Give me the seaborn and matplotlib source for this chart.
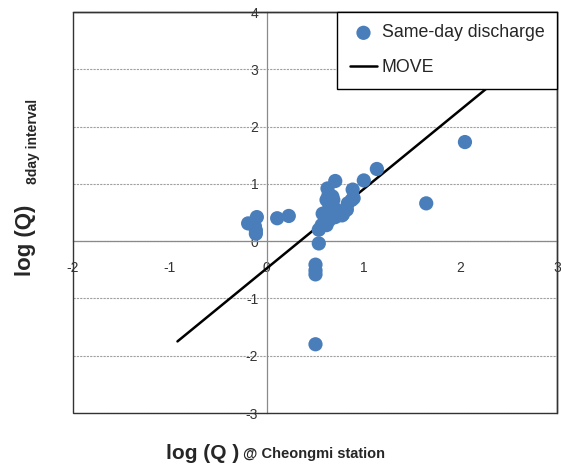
import matplotlib
matplotlib.use('Agg')
import matplotlib.pyplot as plt
import seaborn as sns
import pandas as pd

# Same-day discharge points (log Q @ Cheongmi, log Q 8-day interval)
x_same = [-0.19, -0.10, -0.11, -0.12, -0.11, 0.11, 0.23, 0.54, 0.54, 0.506, 0.506, 0.506, 0.506,
          0.71, 0.63, 0.89, 1.005, 1.14, 2.05, 1.65,
          0.62, 0.69, 0.65, 0.58, 0.62, 0.60, 0.76, 0.79, 0.84, 0.88, 0.90, 0.83, 0.72, 0.69,
          0.71, 0.65, 0.57, 0.62, 0.64, 0.68, 0.78]
y_same = [0.31, 0.42, 0.19, 0.26, 0.13, 0.40, 0.44, 0.20, -0.04, -0.41, -0.51, -0.58, -1.80,
          1.05, 0.92, 0.90, 1.06, 1.26, 1.73, 0.66,
          0.72, 0.72, 0.60, 0.48, 0.42, 0.33, 0.50, 0.47, 0.66, 0.72, 0.75, 0.55, 0.55, 0.50,
          0.42, 0.37, 0.28, 0.28, 0.80, 0.78, 0.45]
# MOVE line end points
move_x = [-0.92, 2.4]
move_y = [-1.75, 2.84]

x_ticks = [-2, -1, 0, 1, 2, 3]
y_ticks = [-3, -2, -1, 0, 1, 2, 3, 4]

sns.set_style('white')
plt.rcParams['font.family'] = ['Liberation Sans', 'DejaVu Sans']

fig = plt.figure(figsize=(5.61, 4.68), dpi=100)
ax = fig.add_axes([0.130, 0.1175, 0.8627, 0.8568])

pts = pd.DataFrame({'x': x_same, 'y': y_same})
mv = pd.DataFrame({'x': move_x, 'y': move_y})

sns.lineplot(data=mv, x='x', y='y', ax=ax, color='black', lw=1.8, label='MOVE', zorder=3)
sns.scatterplot(data=pts, x='x', y='y', ax=ax, color='#4A7EBB', s=105, edgecolor='none',
                label='Same-day discharge', zorder=4)

ax.set_xlim(-2, 3)
ax.set_ylim(-3, 4)
ax.set_xticks(x_ticks)
ax.set_yticks(y_ticks)
ax.set_xticklabels([str(v) for v in x_ticks])
ax.set_yticklabels([str(v) for v in y_ticks])
ax.set_xlabel('')
ax.set_ylabel('')

ax.yaxis.grid(True, linestyle=(0, (2, 1)), color='#a0a0a0', lw=0.8)
ax.xaxis.grid(False)
ax.set_axisbelow(True)

for s in ['left', 'bottom']:
    ax.spines[s].set_position(('data', 0))
    ax.spines[s].set_color('#8a8a8a')
    ax.spines[s].set_linewidth(0.9)
for s in ['top', 'right']:
    ax.spines[s].set_color('#333333')
    ax.spines[s].set_linewidth(1.0)
ax.add_patch(plt.Rectangle((0, 0), 1, 1, transform=ax.transAxes, fill=False,
                           ec='#333333', lw=1.0, clip_on=False, zorder=5))

ax.tick_params(axis='both', length=0, labelsize=10, labelcolor='#333333')
ax.tick_params(axis='x', pad=14)
ax.tick_params(axis='y', pad=6)

h, l = ax.get_legend_handles_labels()
order = [l.index('Same-day discharge'), l.index('MOVE')]
leg = ax.legend([h[i] for i in order], [l[i] for i in order], loc='upper right',
                borderaxespad=0, frameon=True, fancybox=False, edgecolor='black',
                framealpha=1, fontsize=12.8, handlelength=1.55, handletextpad=0.25,
                labelspacing=1.0, borderpad=0.7)
leg.get_frame().set_linewidth(1.0)
leg.set_zorder(6)

fig.text(0.296, 0.032, 'log (Q )', fontsize=15, fontweight='bold', ha='left', va='center')
fig.text(0.433, 0.030, '@ Cheongmi station', fontsize=10.5, fontweight='bold', ha='left',
         va='center', family=['Liberation Sans Narrow', 'Liberation Sans', 'DejaVu Sans'])
fig.text(0.045, 0.487, 'log (Q)', fontsize=16, fontweight='bold', rotation=90,
         ha='center', va='center')
fig.text(0.058, 0.697, '8day interval', fontsize=10, fontweight='bold', rotation=90,
         ha='center', va='center', family=['Liberation Sans Narrow', 'Liberation Sans', 'DejaVu Sans'])

fig.savefig('out.png', dpi=100)
